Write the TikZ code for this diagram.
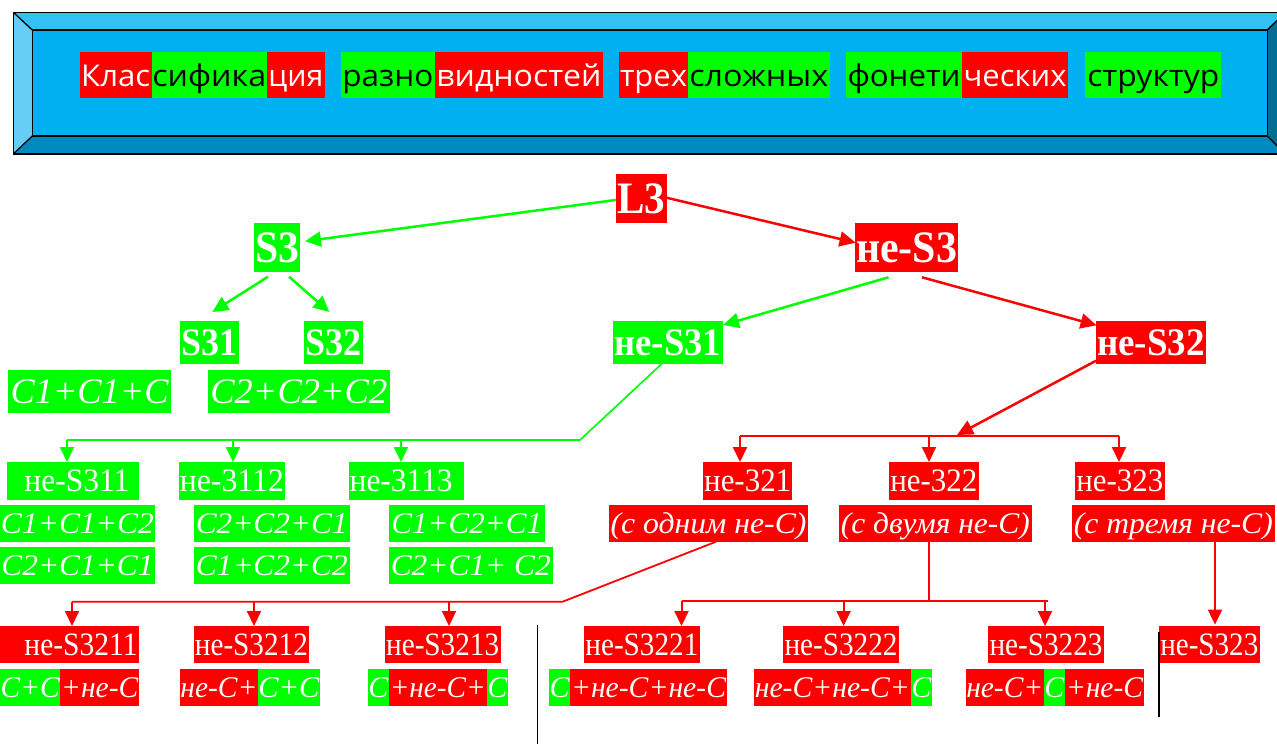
\documentclass[tikz,border=0pt]{standalone}
\usepackage{fontspec}
\setmainfont{Liberation Serif}
\newfontfamily\titlefont{Open Sans}
\usetikzlibrary{arrows.meta,calc}
\definecolor{gG}{RGB}{0,255,0}
\definecolor{rR}{RGB}{255,0,0}
\definecolor{bMid}{HTML}{00B0F0}
\definecolor{bTop}{HTML}{33C1F3}
\definecolor{bLeft}{HTML}{66CEF6}
\definecolor{bBot}{HTML}{0089BD}
\definecolor{bRight}{HTML}{006D94}
\newcommand\fitw[2]{\resizebox{#1}{\height}{#2}}
\begin{document}
\begin{tikzpicture}[x=1pt,y=-1pt,
  lbl/.style={inner sep=0pt, outer sep=0pt},
  gbox/.style={lbl, fill=gG, text=white},
  rbox/.style={lbl, fill=rR, text=white},
  gtit/.style={lbl, fill=gG, text=black, tfont},
  rtit/.style={lbl, fill=rR, text=white, tfont},
  tfont/.style={font=\titlefont\fontsize{30pt}{36pt}\selectfont, text height=27.4pt, text depth=3pt, minimum height=45.8pt, anchor=west},
  bigb/.style={font=\fontsize{45pt}{50pt}\selectfont\bfseries, text height=32.8pt, text depth=3pt},
  midb/.style={font=\fontsize{39pt}{44pt}\selectfont\bfseries, text height=28.8pt, text depth=3pt},
  regf/.style={font=\fontsize{32.7pt}{38pt}\selectfont, text height=24.6pt, text depth=3pt},
  itbig/.style={font=\fontsize{36pt}{42pt}\selectfont\itshape, text height=26.8pt, text depth=3pt},
  itf/.style={font=\fontsize{30pt}{36pt}\selectfont\itshape, text height=22.9pt, text depth=3pt},
  piece/.style={itf, minimum height=36.7pt, anchor=west},
  garr/.style={draw=gG, line width=2.5pt, -{Triangle[length=16pt,width=15pt]}},
  rarr/.style={draw=rR, line width=2.5pt, -{Triangle[length=16pt,width=15pt]}},
  gdrop/.style={draw=gG, line width=2pt, -{Triangle[length=15pt,width=14pt]}},
  rdrop/.style={draw=rR, line width=2pt, -{Triangle[length=15pt,width=14pt]}},
  gline/.style={draw=gG, line width=1.6pt},
  rline/.style={draw=rR, line width=1.8pt}
]
\useasboundingbox (0,0) rectangle (1277,744);
\clip (0,0) rectangle (1277,744);
\fill[white] (0,0) rectangle (1277,744);

% ---------- title banner ----------
\fill[bMid] (32.3,30) rectangle (1267.3,136);
\fill[bTop] (13.3,12.3) -- (1285.3,12.3) -- (1267.3,30) -- (32.3,30) -- cycle;
\fill[bLeft] (13.3,12.3) -- (32.3,30) -- (32.3,136) -- (13.3,154) -- cycle;
\fill[bBot] (13.3,154) -- (32.3,136) -- (1267.3,136) -- (1285.3,154) -- cycle;
\fill[bRight] (1285.3,12.3) -- (1267.3,30) -- (1267.3,136) -- (1285.3,154) -- cycle;
\begin{scope}[draw=black, line width=1.3pt]
\draw (13.3,12.3) rectangle (1285.3,154);
\draw (32.3,30) rectangle (1267.3,136);
\draw (13.3,12.3) -- (32.3,30);
\draw (13.3,154) -- (32.3,136);
\draw (1285.3,12.3) -- (1267.3,30);
\draw (1285.3,154) -- (1267.3,136);
\end{scope}

\node[rtit, minimum width=72.2pt]  (t1)  at (79.6,74.6)   {\fitw{69pt}{Клас}};
\node[gtit, minimum width=115.1pt] (t2)  at (151.8,74.6)  {\fitw{114pt}{сифика}};
\node[rtit, minimum width=58pt]    (t3)  at (266.9,74.6)  {\fitw{55pt}{ция}};
\node[gtit, minimum width=94.2pt]  (t4)  at (340.8,74.6)  {\fitw{91pt}{разно}};
\node[rtit, minimum width=167.8pt] (t5)  at (435,74.6)    {\fitw{165pt}{видностей}};
\node[rtit, minimum width=69pt]    (t6)  at (619,74.6)    {\fitw{67pt}{трех}};
\node[gtit, minimum width=141.6pt] (t7)  at (688,74.6)    {\fitw{139pt}{сложных}};
\node[gtit, minimum width=116pt]   (t8)  at (846,74.6)    {\fitw{113pt}{фонети}};
\node[rtit, minimum width=106pt]   (t9)  at (962,74.6)    {\fitw{103pt}{ческих}};
\node[gtit, minimum width=136pt]   (t10) at (1085.3,74.6) {\fitw{132pt}{структур}};

% ---------- level 0-2 ----------
\node[rbox, bigb, minimum width=50.7pt, minimum height=48.7pt] (L3) at (641.35,198.35) {\fitw{48pt}{L3}};
\node[gbox, bigb, minimum width=46pt, minimum height=49pt] (S3) at (277,247.2) {\fitw{44pt}{S3}};
\node[rbox, bigb, minimum width=103pt, minimum height=49pt] (neS3) at (906.5,247.2) {\fitw{101pt}{не-S3}};
\node[gbox, midb, minimum width=58.7pt, minimum height=42.7pt] (S31) at (209.35,342.35) {\fitw{56pt}{S31}};
\node[gbox, midb, minimum width=58.7pt, minimum height=42.7pt] (S32) at (333.35,342.35) {\fitw{56pt}{S32}};
\node[gbox, midb, minimum width=109.7pt, minimum height=42.7pt] (neS31) at (667.85,342.35) {\fitw{106.5pt}{не-S31}};
\node[rbox, midb, minimum width=110.4pt, minimum height=42.7pt] (neS32) at (1150.8,342.35) {\fitw{107.5pt}{не-S32}};
\node[gbox, itbig, minimum width=162.8pt, minimum height=42.7pt] (fS31) at (89.6,391.35) {\fitw{158pt}{C1+C1+C}};
\node[gbox, itbig, minimum width=181.6pt, minimum height=42.7pt] (fS32) at (298.8,391.35) {\fitw{177pt}{C2+C2+C2}};

% ---------- level 3 ----------
\node[gbox, regf, minimum width=132pt, minimum height=37.7pt] (neS311) at (73,480.85) {\hspace*{8pt}\fitw{105pt}{не-S311}};
\node[gbox, regf, minimum width=105.8pt, minimum height=37.7pt] (ne3112) at (231.9,480.85) {\fitw{104pt}{не-3112}};
\node[gbox, regf, minimum width=115pt, minimum height=37.7pt] (ne3113) at (406.5,480.85) {\fitw{103pt}{не-3113}\hspace*{10.6pt}};
\node[rbox, regf, minimum width=89.4pt, minimum height=37.7pt] (ne321) at (747.7,480.85) {\fitw{87pt}{не-321}};
\node[rbox, regf, minimum width=89.5pt, minimum height=37.7pt] (ne322) at (933.75,480.85) {\fitw{87pt}{не-322}};
\node[rbox, regf, minimum width=89.6pt, minimum height=37.7pt] (ne323) at (1119.8,480.85) {\fitw{87pt}{не-323}};

\node[gbox, itf, minimum width=155pt, minimum height=36.7pt] (f311a) at (77.5,523.35) {\fitw{153pt}{C1+C1+C2}};
\node[gbox, itf, minimum width=155pt, minimum height=36.7pt] (f311b) at (77.5,565.35) {\fitw{152pt}{C2+C1+C1}};
\node[gbox, itf, minimum width=155.9pt, minimum height=36.7pt] (f312a) at (271.75,523.35) {\fitw{152pt}{C2+C2+C1}};
\node[gbox, itf, minimum width=155.9pt, minimum height=36.7pt] (f312b) at (271.75,565.35) {\fitw{152pt}{C1+C2+C2}};
\node[gbox, itf, minimum width=155.9pt, minimum height=36.7pt] (f313a) at (466.75,523.35) {\fitw{151pt}{C1+C2+C1}};
\node[gbox, itf, minimum width=164pt, minimum height=36.7pt] (f313b) at (470.8,565.35) {\fitw{160pt}{C2+C1+ C2}};
\node[rbox, itf, minimum width=199pt, minimum height=36.7pt] (s1) at (708.5,523.35) {\fitw{196pt}{(с одним не-С)}};
\node[rbox, itf, minimum width=192.6pt, minimum height=36.7pt] (s2) at (935.3,523.35) {\fitw{189pt}{(с двумя не-С)}};
\node[rbox, itf, minimum width=202.6pt, minimum height=36.7pt] (s3) at (1173.3,523.35) {\fitw{199pt}{(с тремя не-С)}};

% ---------- level 4 ----------
\node[rbox, regf, minimum width=139pt, minimum height=36.7pt] (neS3211) at (69.5,644.35) {\hspace*{23pt}\fitw{113pt}{не-S3211}};
\node[rbox, regf, minimum width=115.2pt, minimum height=36.7pt] (neS3212) at (251.4,644.35) {\fitw{113pt}{не-S3212}};
\node[rbox, regf, minimum width=115.9pt, minimum height=36.7pt] (neS3213) at (442.65,644.35) {\fitw{113pt}{не-S3213}};
\node[rbox, regf, minimum width=115.8pt, minimum height=36.7pt] (neS3221) at (641.9,644.35) {\fitw{113pt}{не-S3221}};
\node[rbox, regf, minimum width=116pt, minimum height=36.7pt] (neS3222) at (841,644.35) {\fitw{113pt}{не-S3222}};
\node[rbox, regf, minimum width=116pt, minimum height=36.7pt] (neS3223) at (1046,644.35) {\fitw{113pt}{не-S3223}};
\node[rbox, regf, minimum width=100.6pt, minimum height=36.7pt] (neS323) at (1209.3,644.35) {\fitw{98pt}{не-S323}};

\node[gbox, piece, minimum width=60.4pt] (pa1) at (0,687.35) {\fitw{59pt}{C+C}};
\node[rbox, piece, minimum width=78.6pt] (pa2) at (60.4,687.35) {\fitw{77pt}{+не-C}};
\node[rbox, piece, minimum width=77.9pt] (pb1) at (180,687.35) {\fitw{77pt}{не-C+}};
\node[gbox, piece, minimum width=62pt] (pb2) at (257.9,687.35) {\fitw{61pt}{C+C}};
\node[gbox, piece, minimum width=20.8pt] (pc1) at (368,687.35) {\fitw{20pt}{C}};
\node[rbox, piece, minimum width=97.9pt] (pc2) at (388.8,687.35) {\fitw{96pt}{+не-C+}};
\node[gbox, piece, minimum width=21.3pt] (pc3) at (486.7,687.35) {\fitw{20pt}{C}};
\node[gbox, piece, minimum width=21pt] (pd1) at (549,687.35) {\fitw{20pt}{C}};
\node[rbox, piece, minimum width=157pt] (pd2) at (570,687.35) {\fitw{155pt}{+не-C+не-C}};
\node[rbox, piece, minimum width=156.9pt] (pe1) at (753.9,687.35) {\fitw{155pt}{не-C+не-C+}};
\node[gbox, piece, minimum width=21.2pt] (pe2) at (910.8,687.35) {\fitw{20pt}{C}};
\node[rbox, piece, minimum width=78pt] (pf1) at (965.8,687.35) {\fitw{77pt}{не-C+}};
\node[gbox, piece, minimum width=21.2pt] (pf2) at (1043.8,687.35) {\fitw{20pt}{C}};
\node[rbox, piece, minimum width=79pt] (pf3) at (1065,687.35) {\fitw{77pt}{+не-C}};

% ---------- connectors ----------
\draw[garr] ($(L3.west)+(0,1.6)$) -- ($(S3.east)+(5,-6)$);
\draw[garr] ($(S3.south)+(-9,5)$) -- ($(S31.north)+(3,-9)$);
\draw[garr] ($(S3.south)+(12,5)$) -- ($(S32.north)+(-4,-9)$);
\draw[rarr] ($(L3.east)+(0,-0.6)$) -- ($(neS3.west)+(0.6,-4.5)$);
\draw[garr] ($(neS3.south)+(-18,5.6)$) -- ($(neS31.north east)+(0.3,4)$);
\draw[rarr] ($(neS3.south)+(15.5,5.6)$) -- ($(neS32.north west)+(1,4.3)$);

% green bus under не-S31
\coordinate (gb1) at (580,440);
\coordinate (gb2) at (67,440);
\draw[gline] ($(neS31.south)+(-6,0)$) -- (gb1) -- (gb2);
\draw[gdrop] ($(neS311.north)+(-6,-22)$) -- ($(neS311.north)+(-6,0)$);
\draw[gdrop] ($(ne3112.north)+(1.1,-22)$) -- ($(ne3112.north)+(1.1,0)$);
\draw[gdrop] ($(ne3113.north)+(-5.5,-22)$) -- ($(ne3113.north)+(-5.5,0)$);

% red bus under не-S32
\coordinate (rb1a) at (740,436.3);
\coordinate (rb1b) at (1119,436.3);
\coordinate (rb1t) at (957,435);
\draw[rline] (rb1a) -- (rb1b);
\draw[rarr] ($(neS32.south west)+(0.5,-3)$) -- (rb1t);
\draw[rdrop] ($(ne321.north)+(-7.7,-25.7)$) -- ($(ne321.north)+(-7.7,0)$);
\draw[rdrop] ($(ne322.north)+(-4.75,-25.7)$) -- ($(ne322.north)+(-4.75,0)$);
\draw[rdrop] ($(ne323.north)+(-0.8,-25.7)$) -- ($(ne323.north)+(-0.8,0)$);

% red bus under (с одним не-С)
\coordinate (rb2a) at (562.6,601.7);
\coordinate (rb2b) at (71.8,601.7);
\draw[rline] ($(s1.south)+(7.5,0)$) -- (rb2a) -- (rb2b);
\draw[rdrop] ($(neS3211.north)+(2.5,-24.3)$) -- ($(neS3211.north)+(2.5,0)$);
\draw[rdrop] ($(neS3212.north)+(2.6,-24.3)$) -- ($(neS3212.north)+(2.6,0)$);
\draw[rdrop] ($(neS3213.north)+(6.35,-24.3)$) -- ($(neS3213.north)+(6.35,0)$);

% red bus under (с двумя не-С)
\coordinate (rb3m) at (928.7,600.7);
\coordinate (rb3a) at (681.5,600.7);
\coordinate (rb3b) at (1047.6,600.7);
\draw[rline] ($(s2.south)+(-6.6,0)$) -- (rb3m);
\draw[rline] (rb3a) -- (rb3b);
\draw[rdrop] ($(neS3221.north)+(39.6,-25.3)$) -- ($(neS3221.north)+(39.6,0)$);
\draw[rdrop] ($(neS3222.north)+(2.6,-25.3)$) -- ($(neS3222.north)+(2.6,0)$);
\draw[rdrop] ($(neS3223.north)+(-1,-25.3)$) -- ($(neS3223.north)+(-1,0)$);

% (с тремя не-С) -> не-S323
\draw[rdrop] ($(s3.south)+(41.7,0)$) -- ($(neS323.north)+(5.7,-1.4)$);

% stray black rules
\draw[black, line width=1.5pt] (537.7,625) -- (537.7,744);
\draw[black, line width=1.5pt] (1159,631.7) -- (1159,716.7);
\end{tikzpicture}
\end{document}
